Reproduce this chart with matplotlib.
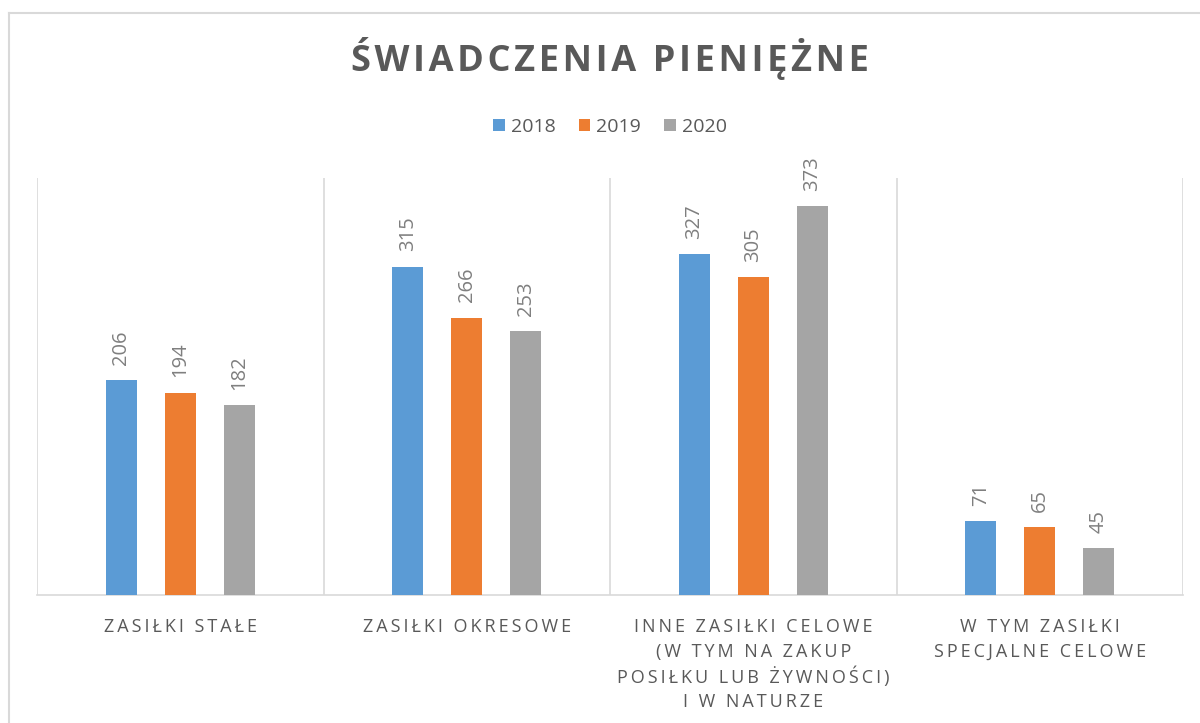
import matplotlib
matplotlib.use("Agg")
import matplotlib.pyplot as plt
from matplotlib.lines import Line2D
import numpy as np

categories = ["ZASIŁKI STAŁE", "ZASIŁKI OKRESOWE",
              "INNE ZASIŁKI CELOWE\n(W TYM NA ZAKUP\nPOSIŁKU LUB ŻYWNOŚCI)\nI W NATURZE",
              "W TYM ZASIŁKI\nSPECJALNE CELOWE"]
years = ["2018", "2019", "2020"]
values_2018 = [206, 315, 327, 71]
values_2019 = [194, 266, 305, 65]
values_2020 = [182, 253, 373, 45]
title = "ŚWIADCZENIA PIENIĘŻNE"

colors = ["#5B9BD5", "#ED7D31", "#A5A5A5"]
series = [values_2018, values_2019, values_2020]

def spaced(s, sep="\u2009"):
    return sep.join(list(s))

plt.rcParams['font.family'] = ['Open Sans', 'DejaVu Sans']

W, H = 1200, 723
fig = plt.figure(figsize=(12, 7.23), dpi=100)
ax = fig.add_axes([37 / W, (H - 595) / H, (1183 - 37) / W, (595 - 178) / H])

x = np.arange(len(categories)) + 0.5
offsets = [-0.206, 0.0, 0.206]
width = 0.108
for vals, off, c, y in zip(series, offsets, colors, years):
    bars = ax.bar(x + off, vals, width=width, color=c, label=y, zorder=3)
    for b, v in zip(bars, vals):
        ax.annotate(str(v), (b.get_x() + b.get_width() / 2, v),
                    xytext=(0, 11), textcoords="offset points",
                    rotation=90, ha="center", va="bottom",
                    fontsize=14.5, color="#7F7F7F")

ax.set_xlim(0, 4)
ax.set_ylim(0, 400)
for xv in range(5):
    ax.axvline(xv, color="#D9D9D9", lw=1.2, zorder=1)
for s in ["top", "left", "right"]:
    ax.spines[s].set_visible(False)
ax.spines["bottom"].set_color("#D9D9D9")
ax.spines["bottom"].set_linewidth(1.2)
ax.set_yticks([])
ax.set_xticks([])

# category labels, one text per line for even line spacing
first_off = 21.6  # points below baseline (line center)
line_step = 18.0  # points between lines
for xc, cat in zip(x, categories):
    for j, line in enumerate(cat.split("\n")):
        ax.annotate(spaced(line), (xc, 0), xytext=(0, -(first_off + j * line_step)),
                    textcoords="offset points", ha="center", va="center_baseline",
                    fontsize=13, color="#595959", annotation_clip=False)

fig.text(610 / W, 1 - 58 / H, spaced(title, "\u200a"), ha="center", va="center",
         fontsize=26, fontweight="bold", color="#595959")

leg = fig.legend(loc="center", bbox_to_anchor=(610 / W, 1 - 127 / H), ncol=3,
                 frameon=False, fontsize=14, handlelength=0.6, handleheight=0.6,
                 handletextpad=0.3, columnspacing=1.2, labelcolor="#595959")

fig.add_artist(Line2D([9 / W, 9 / W], [0, 1 - 13 / H], transform=fig.transFigure,
                      color="#D9D9D9", lw=1.5))
fig.add_artist(Line2D([9 / W, 1], [1 - 13 / H, 1 - 13 / H], transform=fig.transFigure,
                      color="#D9D9D9", lw=1.5))

fig.savefig("out.png", dpi=100, facecolor="white")
